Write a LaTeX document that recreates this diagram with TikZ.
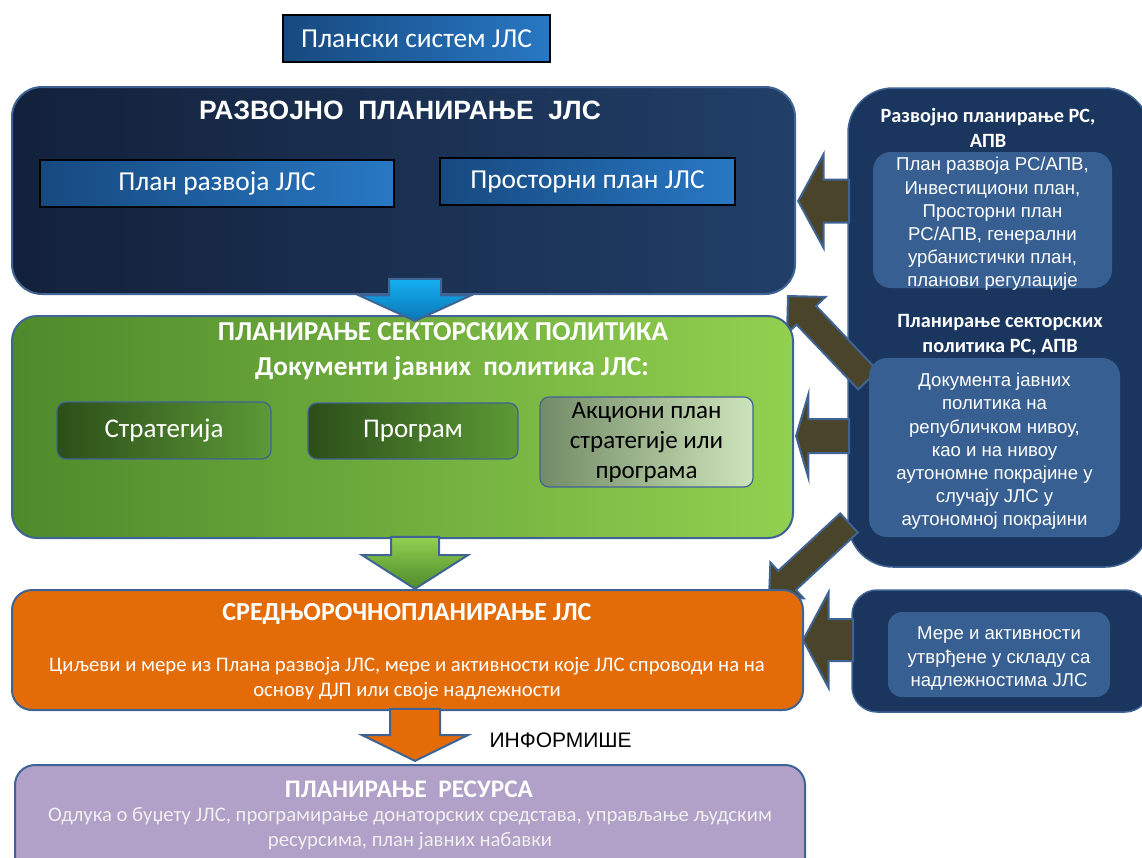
\documentclass[tikz,border=0pt]{standalone}
\usepackage{fontspec}
\setmainfont{Carlito}
\newfontfamily\arialfont{Liberation Sans}
\usepackage{xcolor}
\usetikzlibrary{shapes.arrows, positioning}
\definecolor{edgeblue}{HTML}{3F6494}
\definecolor{navyL}{HTML}{13213B}
\definecolor{navyR}{HTML}{213F68}
\definecolor{planL}{HTML}{17497F}
\definecolor{planR}{HTML}{2878C4}
\definecolor{sidenavy}{HTML}{1B365E}
\definecolor{innerblue}{HTML}{375F91}
\definecolor{greenL}{HTML}{4E8A2B}
\definecolor{greenR}{HTML}{92D050}
\definecolor{stratL}{HTML}{2C4E19}
\definecolor{stratR}{HTML}{5C9A36}
\definecolor{akcL}{HTML}{738B66}
\definecolor{akcR}{HTML}{CDE4BB}
\definecolor{srednjeorange}{HTML}{E36C09}
\definecolor{resursviolet}{HTML}{B1A0C7}
\definecolor{strelabrown}{HTML}{4A452A}
\definecolor{strelablueL}{HTML}{0B76B6}
\definecolor{strelablueR}{HTML}{15B0F0}
\tikzstyle{strela} = [single arrow, draw=edgeblue, line width=2pt, single arrow head indent=0pt, inner xsep=0pt, anchor=tip]

\begin{document}
\begin{tikzpicture}[x=1pt, y=-1pt,
sidepanel/.style={fill=sidenavy, draw=edgeblue, line width=1.5pt, inner sep=0pt},
sideinner/.style={fill=innerblue, rounded corners=18pt, inner sep=0pt},
sidetxt/.style={text=white, align=center, yshift=-4pt, font=\arialfont\fontsize{18.6}{23.2}\selectfont},
sidetitle/.style={text=white, align=center, font=\bfseries\fontsize{20.3}{24.5}\selectfont},
mainbox/.style={draw=edgeblue, line width=2pt, inner sep=0pt},
planbox/.style={draw=black, line width=1.6pt, left color=planL, right color=planR, text=white, inner sep=0pt, font=\fontsize{27.4}{30}\selectfont},
docbox/.style={draw=edgeblue, line width=1.2pt, rounded corners=9pt, inner sep=0pt, align=center, font=\fontsize{27}{30}\selectfont},
boldtitle/.style={text=white, font=\bfseries\fontsize{27.3}{30}\selectfont},
bodytxt/.style={text=white, align=center, font=\fontsize{20.7}{25}\selectfont}]
\useasboundingbox (0,0) rectangle (1142,857);
\clip (0,0) rectangle (1142,857);

\node[sidepanel, rounded corners=45pt, minimum width=302, minimum height=479] (republika) at (999,327.5) {};
\node[sidepanel, rounded corners=25pt, minimum width=298, minimum height=122] (nadleznost) at (1001,651) {};

\node[strela, fill=strelabrown, rotate=180, minimum height=51, minimum width=92, inner ysep=20.5, single arrow head extend=25.5, single arrow tip angle=123] (smerrazvoj) at (797,201) {};
\node[strela, fill=strelabrown, rotate=133.6, minimum height=116, minimum width=51, inner ysep=12.5, single arrow head extend=13, single arrow tip angle=90] (smerkoso1) at (787,295) {};
\node[strela, fill=strelabrown, rotate=180, minimum height=53, minimum width=82, inner ysep=16, single arrow head extend=25, single arrow tip angle=147] (smersektor) at (795,436) {};
\node[strela, fill=strelabrown, rotate=222.8, minimum height=109, minimum width=47, inner ysep=12, single arrow head extend=11.5, single arrow tip angle=90] (smerkoso2) at (768,598) {};
\node[strela, fill=strelabrown, rotate=180, minimum height=50, minimum width=94, inner ysep=20, single arrow head extend=27, single arrow tip angle=124] (smermere) at (802,640) {};

\node[sidetitle] (republikatxt) at (988,128) {Развојно планирање РС,\\АПВ};
\node[sideinner, minimum width=239, minimum height=136] (republikaplan) at (992.5,220) {};
\node[sidetxt] (republikaplantxt) at (republikaplan) {План развоја РС/АПВ,\\Инвестициони план,\\Просторни план\\РС/АПВ, генерални\\урбанистички план,\\планови регулације};
\node[sidetitle] (sektorrstxt) at (1000,335) {Планирање секторских\\политика РС, АПВ};
\node[sideinner, minimum width=251, minimum height=179] (sektorrs) at (994.5,447.5) {};
\node[sidetxt] (sektorrsdok) at (sektorrs) {Документа јавних\\политика на\\републичком нивоу,\\као и на нивоу\\аутономне покрајине у\\случају ЈЛС у\\аутономној покрајини};
\node[sideinner, rounded corners=14pt, minimum width=222, minimum height=85] (merejls) at (999,654.5) {};
\node[sidetxt] (merejlstxt) at (merejls) {Мере и активности\\утврђене у складу са\\надлежностима ЈЛС};

\node[planbox, minimum width=267, minimum height=47] (planski) at (416.5,38.5) {Плански систем ЈЛС};

\node[mainbox, rounded corners=30pt, left color=navyL, right color=navyR, minimum width=783, minimum height=207] (razvoj) at (403.5,190.5) {};
\node[boldtitle, font=\arialfont\bfseries\fontsize{26.5}{30}\selectfont] (razvojtxt) at (400,110) {РАЗВОЈНО\ \ ПЛАНИРАЊЕ\ \ ЈЛС};
\node[planbox, minimum width=354, minimum height=47] (planrazvoja) at (217,183.5) {План развоја ЈЛС};
\node[planbox, minimum width=295, minimum height=47] (prostorni) at (587.5,181.5) {Просторни план ЈЛС};

\node[mainbox, rounded corners=25pt, left color=greenL, right color=greenR, minimum width=781, minimum height=222] (sektor) at (402.5,427) {};
\node[boldtitle] (sektortxt) at (443,332) {ПЛАНИРАЊЕ СЕКТОРСКИХ ПОЛИТИКА};
\node[boldtitle] (dokumentitxt) at (452,368) {Документи јавних\ \ политика ЈЛС:};
\node[docbox, left color=stratL, right color=stratR, text=white, minimum width=214, minimum height=57] (strategija) at (164,430.5) {Стратегија};
\node[docbox, left color=stratL, right color=stratR, text=white, minimum width=210, minimum height=56] (program) at (413,431) {Програм};
\node[docbox, left color=akcL, right color=akcR, text=black, font=\fontsize{25}{30}\selectfont, minimum width=213, minimum height=90] (akcioni) at (646.5,442) {Акциони план\\стратегије или\\програма};

\node[mainbox, rounded corners=20pt, fill=srednjeorange, minimum width=791, minimum height=120] (srednjorocno) at (407.5,650) {};
\node[boldtitle, font=\bfseries\fontsize{26}{30}\selectfont] (srednjorocnotxt) at (407,614) {СРЕДЊОРОЧНОПЛАНИРАЊЕ ЈЛС};
\node[bodytxt] (srednjorocnobody) at (407,678.5) {Циљеви и мере из Плана развоја ЈЛС, мере и активности које ЈЛС спроводи на на\\основу ДЈП или своје надлежности};

\node[mainbox, rounded corners=20pt, fill=resursviolet, minimum width=790, minimum height=115] (resursi) at (410,822.5) {};
\node[boldtitle, font=\bfseries\fontsize{25.3}{30}\selectfont] (resursitxt) at (409,789) {ПЛАНИРАЊЕ\ \ РЕСУРСА};
\node[bodytxt, text=white!94!black] (resursibody) at (410,829) {Одлука о буџету ЈЛС, програмирање донаторских средстава, управљање људским\\ресурсима, план јавних набавки};

\node[strela, rotate=-90, bottom color=strelablueL, top color=strelablueR, minimum height=42, minimum width=110, inner ysep=25, single arrow head extend=30, single arrow tip angle=131] (plava) at (415,322) {};
\node[strela, rotate=-90, bottom color=greenL, top color=greenR, minimum height=52, minimum width=104, inner ysep=23, single arrow head extend=29, single arrow tip angle=115] (zelena) at (415,590) {};
\node[strela, rotate=-90, fill=srednjeorange, minimum height=52, minimum width=104, inner ysep=24, single arrow head extend=28, single arrow tip angle=128] (narandzasta) at (415,762) {};
\node[font=\arialfont\fontsize{21}{24}\selectfont, anchor=west] (informise) at (486,740) {ИНФОРМИШЕ};
\end{tikzpicture}
\end{document}
